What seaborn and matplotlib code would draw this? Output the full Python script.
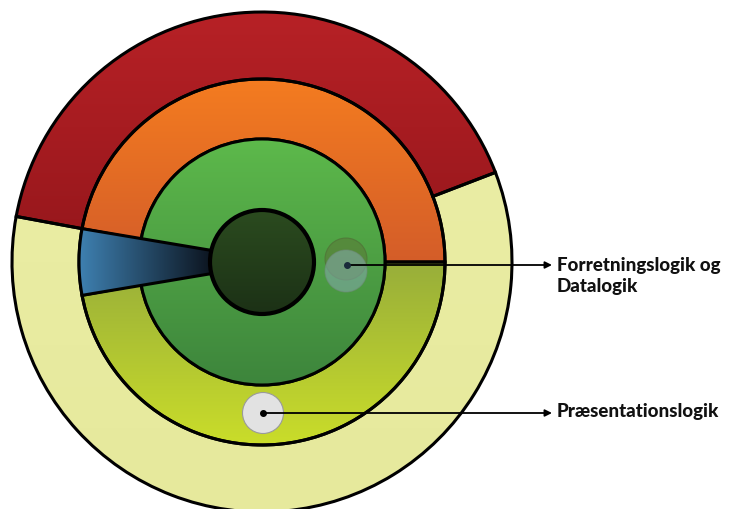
import numpy as np
import matplotlib
matplotlib.use('Agg')
import matplotlib.pyplot as plt
import seaborn as sns
from matplotlib.patches import Wedge, Circle, Polygon
from matplotlib.colors import LinearSegmentedColormap

# Diagram geometry (pixel units, y pointing up)
center = (262, 247)
ring_radii = [250, 183, 123, 52]          # outer ring, middle ring, green core, dark centre
red_span = (21, 169.5)                    # top part of outer ring
orange_span = (0, 169.5)                  # top part of middle ring
blue_span = (169.5, 190.5)                # left wedge in middle ring
blue_tip_half = 11.5                      # half height of wedge where it meets the centre

# Colours (top / bottom of each gradient)
red_cols = ['#B72126', '#97171C']
pale_cols = ['#ECEFA8', '#E6E99C']
orange_cols = ['#F47C20', '#D45D29']
olive_cols = ['#98AE3A', '#CADD2A']
green_cols = ['#5DB94B', '#3D853C']
dark_cols = ['#2B4B1F', '#1C3116']
blue_cols = ['#3F82B3', '#0C141F']        # left / right

# Labels
labels = ['Forretningslogik og\nDatalogik', 'Præsentationslogik']
label_dots = [(347, 244), (263, 96)]
label_x = 557

sns.set_theme(style='white')
plt.rcParams['font.family'] = ['Lato', 'DejaVu Sans']

fig = plt.figure(figsize=(7.31, 5.09), dpi=100)
ax = fig.add_axes([0, 0, 1, 1])
ax.set_xlim(0, 731)
ax.set_ylim(0, 509)
ax.axis('off')


def grad_patch(patch, cols, extent, z, horizontal=False, lw=2.2):
    patch.set_facecolor('none')
    patch.set_edgecolor('black')
    patch.set_linewidth(lw)
    patch.set_zorder(z + 0.5)
    ax.add_patch(patch)
    cmap = LinearSegmentedColormap.from_list('g', cols[::-1] if not horizontal else cols)
    g = np.linspace(0, 1, 256)
    arr = g[:, None] if not horizontal else g[None, :]
    im = ax.imshow(arr, cmap=cmap, extent=extent, origin='lower',
                   aspect='auto', zorder=z, interpolation='bilinear')
    im.set_clip_path(patch)


cx, cy = center
r0, r1, r2, r3 = ring_radii

# outer ring
grad_patch(Wedge(center, r0, red_span[0], red_span[1], width=r0 - r1), red_cols,
           [cx - r0, cx + r0, cy + 20, cy + r0], 1)
grad_patch(Wedge(center, r0, red_span[1], red_span[0] + 360, width=r0 - r1), pale_cols,
           [cx - r0, cx + r0, cy - r0, cy + r0], 1)

# middle ring
grad_patch(Wedge(center, r1, orange_span[0], orange_span[1], width=r1 - r2), orange_cols,
           [cx - r1, cx + r1, cy, cy + r1], 1)
grad_patch(Wedge(center, r1, blue_span[1], 360, width=r1 - r2), olive_cols,
           [cx - r1, cx + r1, cy - r1, cy], 1)

# green core
grad_patch(Circle(center, r2), green_cols, [cx - r2, cx + r2, cy - r2, cy + r2], 2)

# blue wedge
arc = np.linspace(np.radians(blue_span[0]), np.radians(blue_span[1]), 30)
pts = [(cx + r1 * np.cos(a), cy + r1 * np.sin(a)) for a in arc]
pts += [(cx - r3 + 2, cy - blue_tip_half), (cx - r3 + 2, cy + blue_tip_half)]
grad_patch(Polygon(pts, closed=True), blue_cols,
           [cx - r1 - 2, cx - r3 + 2, cy - 40, cy + 40], 3, horizontal=True)

# dark centre
grad_patch(Circle(center, r3), dark_cols, [cx - r3, cx + r3, cy - r3, cy + r3], 4, lw=3)

# translucent markers
ax.add_patch(Circle((346, 250), 21, facecolor='#5a7a38', alpha=0.6,
                    edgecolor='#4f6b35', lw=0.8, zorder=6))
ax.add_patch(Circle((346, 238), 21, facecolor='#86aab0', alpha=0.55,
                    edgecolor='#6f8a7a', lw=0.8, zorder=6.1))
ax.add_patch(Circle((263, 96), 20.5, facecolor='#E2E2E2', edgecolor='#9a9a9a',
                    lw=0.8, zorder=6))

# arrows + labels
for txt, (dx, dy) in zip(labels, label_dots):
    ax.plot(dx, dy, 'o', color='#1a2a3a' if dy > 200 else 'black', ms=4, zorder=8)
    ax.annotate('', xy=(label_x - 5, dy), xytext=(dx, dy),
                arrowprops=dict(arrowstyle='-|>', color='black', lw=1.3,
                                mutation_scale=10, shrinkA=0, shrinkB=0),
                zorder=7)
    ax.text(label_x, dy + (1 if '\n' not in txt else -11), txt,
            fontsize=13.5, fontweight='black', color='#111111',
            ha='left', va='center', linespacing=1.25, zorder=8)

fig.savefig('out.png', dpi=100)
